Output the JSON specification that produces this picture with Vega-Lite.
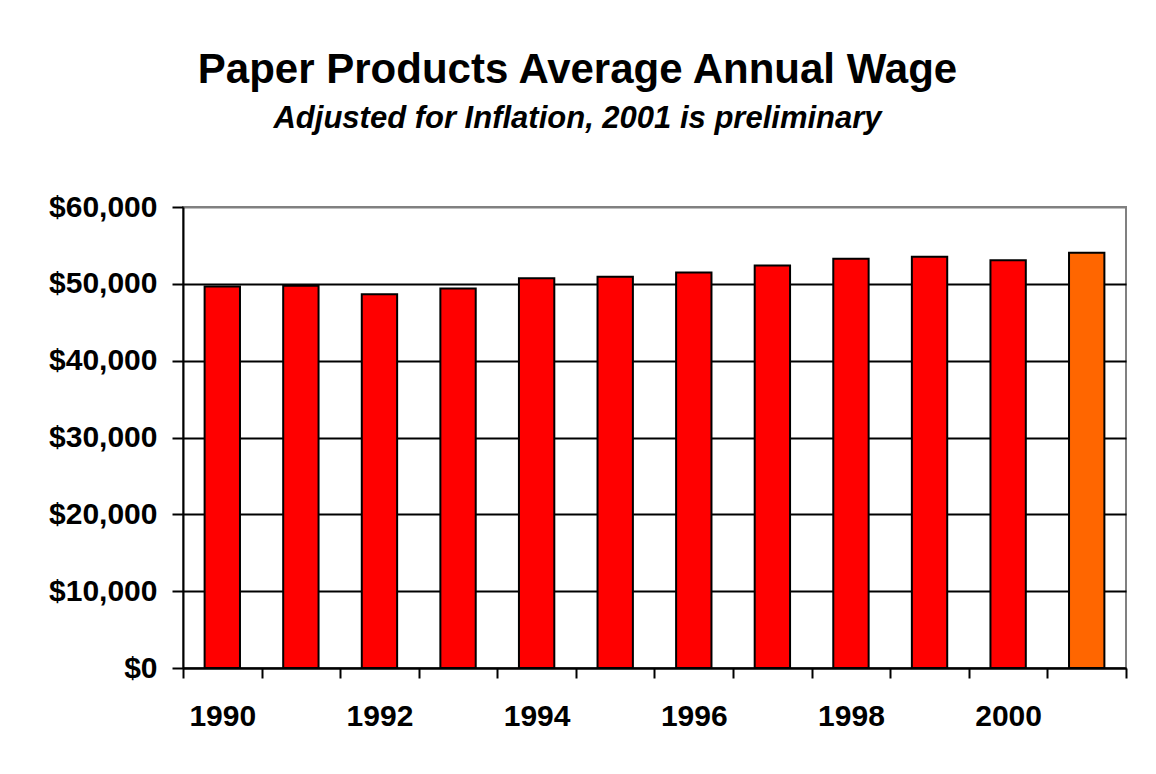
{
  "$schema": "https://vega.github.io/schema/vega-lite/v6.json",
  "width": 943,
  "height": 461,
  "autosize": {"type": "none"},
  "padding": {"left": 183, "top": 207, "right": 30, "bottom": 106},
  "background": "white",
  "title": {
    "text": "Paper Products Average Annual Wage",
    "subtitle": "Adjusted for Inflation, 2001 is preliminary",
    "anchor": "middle",
    "frame": "group",
    "dx": -77,
    "offset": 57,
    "font": "Liberation Sans",
    "fontSize": 42,
    "fontWeight": "bold",
    "color": "black",
    "subtitleFont": "Liberation Sans",
    "subtitleFontSize": 31,
    "subtitleFontWeight": "bold",
    "subtitleFontStyle": "italic",
    "subtitleColor": "black",
    "subtitlePadding": 12
  },
  "data": {
    "values": [
      {"year": 1990, "wage": 49650, "status": "final"},
      {"year": 1991, "wage": 49740, "status": "final"},
      {"year": 1992, "wage": 48660, "status": "final"},
      {"year": 1993, "wage": 49390, "status": "final"},
      {"year": 1994, "wage": 50740, "status": "final"},
      {"year": 1995, "wage": 50910, "status": "final"},
      {"year": 1996, "wage": 51470, "status": "final"},
      {"year": 1997, "wage": 52380, "status": "final"},
      {"year": 1998, "wage": 53250, "status": "final"},
      {"year": 1999, "wage": 53510, "status": "final"},
      {"year": 2000, "wage": 53080, "status": "final"},
      {"year": 2001, "wage": 54030, "status": "preliminary"}
    ]
  },
  "mark": {"type": "bar", "stroke": "black", "strokeWidth": 2, "width": {"band": 0.45}},
  "encoding": {
    "x": {
      "field": "year",
      "type": "ordinal",
      "scale": {"paddingInner": 0, "paddingOuter": 0},
      "axis": {
        "title": null,
        "labelAngle": 0,
        "tickBand": "extent",
        "labelExpr": "datum.value % 2 == 0 ? datum.label : ''",
        "labelFont": "Liberation Sans",
        "labelFontSize": 30,
        "labelFontWeight": "bold",
        "labelColor": "black",
        "labelPadding": 23,
        "tickSize": 10,
        "tickColor": "black",
        "tickWidth": 2,
        "domainColor": "black",
        "domainWidth": 2,
        "grid": false
      }
    },
    "y": {
      "field": "wage",
      "type": "quantitative",
      "scale": {"domain": [0, 60000], "nice": false},
      "axis": {
        "title": null,
        "values": [0, 10000, 20000, 30000, 40000, 50000, 60000],
        "format": "$,.0f",
        "labelFont": "Liberation Sans",
        "labelFontSize": 30,
        "labelFontWeight": "bold",
        "labelColor": "black",
        "labelPadding": 15,
        "tickSize": 11,
        "tickColor": "black",
        "tickWidth": 2,
        "domainColor": "black",
        "domainWidth": 2,
        "grid": true,
        "gridColor": {"condition": {"test": "datum.value == 60000", "value": "#808080"}, "value": "black"},
        "gridWidth": 2,
        "gridOpacity": 1
      }
    },
    "fill": {
      "field": "status",
      "type": "nominal",
      "scale": {"domain": ["final", "preliminary"], "range": ["#FF0000", "#FF6600"]},
      "legend": null
    }
  },
  "config": {
    "view": {"stroke": "#808080", "strokeWidth": 2}
  }
}
